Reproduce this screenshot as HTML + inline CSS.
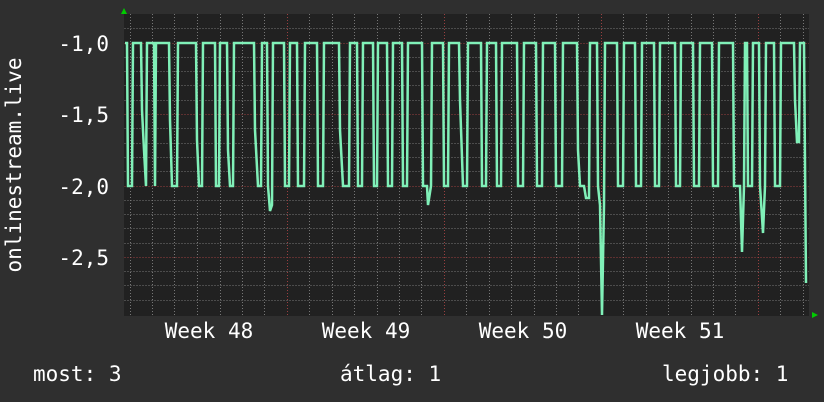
<!DOCTYPE html>
<html><head><meta charset="utf-8"><style>
html,body{margin:0;padding:0;background:#2f2f2f;}
svg{display:block;}
text{font-family:"DejaVu Sans Mono","Liberation Mono",monospace;font-size:21px;fill:#ffffff;}
</style></head><body>
<svg width="824" height="402" viewBox="0 0 824 402" xmlns="http://www.w3.org/2000/svg">
<rect width="824" height="402" fill="#2f2f2f"/>
<rect x="124" y="14" width="685" height="302" fill="#212121"/>
<g stroke="#777" stroke-width="1" stroke-dasharray="1,2" shape-rendering="crispEdges">
<path d="M124.5 28.5H809M124.5 57.5H809M124.5 71.5H809M124.5 85.5H809M124.5 100.5H809M124.5 128.5H809M124.5 143.5H809M124.5 157.5H809M124.5 171.5H809M124.5 200.5H809M124.5 214.5H809M124.5 228.5H809M124.5 243.5H809M124.5 271.5H809M124.5 285.5H809M124.5 300.5H809"/>
<path d="M130.5 14V316M152.5 14V316M174.5 14V316M197.5 14V316M220.5 14V316M242.5 14V316M264.5 14V316M309.5 14V316M332.5 14V316M354.5 14V316M377.5 14V316M399.5 14V316M421.5 14V316M466.5 14V316M489.5 14V316M511.5 14V316M534.5 14V316M556.5 14V316M578.5 14V316M623.5 14V316M646.5 14V316M668.5 14V316M691.5 14V316M713.5 14V316M735.5 14V316M780.5 14V316M803.5 14V316"/>
</g>
<g stroke="#9a4040" stroke-width="1" stroke-dasharray="1,2" shape-rendering="crispEdges">
<path d="M124.5 43.5H809M124.5 114.5H809M124.5 186.5H809M124.5 257.5H809"/>
<path d="M287.5 14V316M444.5 14V316M601.5 14V316M758.5 14V316"/>
</g>
<polyline fill="none" stroke="#80f0b8" stroke-width="2.5" points="
125,43 127,43 128,186 132,186 133,43 141,43 142,110 144,150 146,186 147,43 154,43 155,186 156,43 169,43 170,120 172,186 177,186 178,43 196,43 197,140 199,186 202,186 203,43 215,43 216,186 219,186 220,43 227,43 228,150 230,186 233,186 234,43 254,43 255,130 258,186 261,186 262,43 267,43 268,186 270,211 272,205 273,43 284,43 285,186 289,186 290,43 297,43 298,186 304,186 305,43 317,43 318,186 323,186 324,43 339,43 340,130 343,186 349,186 350,43 357,43 358,186 362,186 363,43 373,43 374,186 377,186 378,43 387,43 388,186 392,186 393,43 402,43 403,186 407,186 408,43 422,43 423,186 427,186 428,205 431,186 432,43 443,43 444,186 448,186 449,43 459,43 460,100 463,186 467,186 468,43 481,43 482,186 486,186 487,43 496,43 497,186 501,186 502,43 517,43 518,186 523,186 524,43 536,43 537,186 542,186 543,43 555,43 556,186 562,186 563,43 577,43 578,150 580,186 584,186 586,198 589,198 590,43 597,43 598,186 600,205 602,315 604,205 605,43 617,43 618,186 623,186 624,43 635,43 636,186 641,186 642,43 654,43 655,186 659,186 660,43 675,43 676,186 680,186 681,43 693,43 694,186 699,186 700,43 712,43 713,186 718,186 719,43 733,43 734,186 740,186 742,252 744,186 745,43 747,43 748,186 752,186 753,43 759,43 760,186 763,233 765,186 766,43 774,43 775,186 780,186 781,43 794,43 795,100 797,142 799,142 800,43 804,43 806,283"/>
<polygon points="121,14 127,14 124,8" fill="#00cc00"/>
<polygon points="812,312 812,318 818,315" fill="#00cc00"/>
<g text-anchor="end">
<text x="109" y="51">-1,0</text>
<text x="109" y="122">-1,5</text>
<text x="109" y="194">-2,0</text>
<text x="109" y="265">-2,5</text>
</g>
<g text-anchor="middle">
<text x="209" y="338">Week 48</text>
<text x="366" y="338">Week 49</text>
<text x="523" y="338">Week 50</text>
<text x="680" y="338">Week 51</text>
</g>
<text x="21" y="165" text-anchor="middle" transform="rotate(-90 21 165)">onlinestream.live</text>
<text x="33" y="381">most: 3</text>
<text x="340" y="381">átlag: 1</text>
<text x="662" y="381">legjobb: 1</text>
</svg>
</body></html>
